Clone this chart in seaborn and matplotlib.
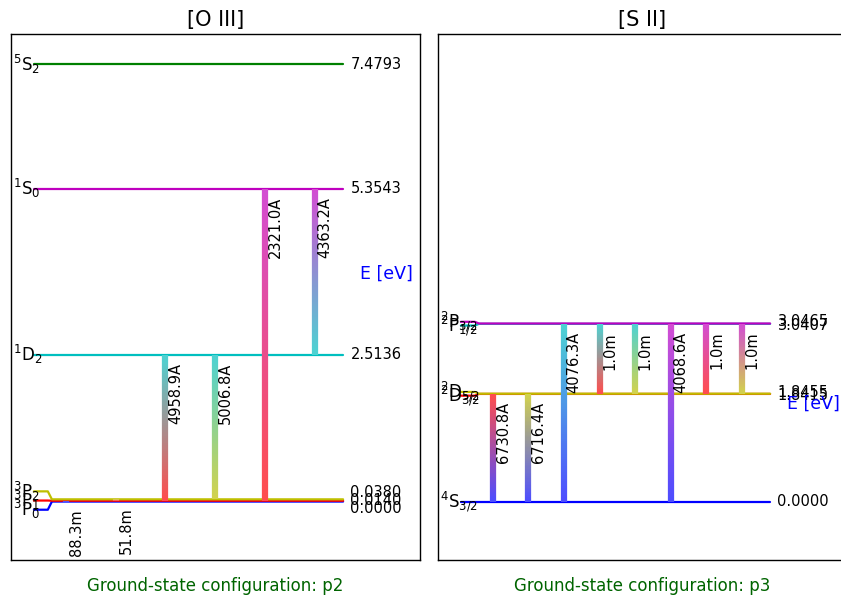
import numpy as np
import pandas as pd
import matplotlib
matplotlib.use("Agg")
import matplotlib.pyplot as plt
from matplotlib.collections import LineCollection
from matplotlib.colors import to_rgb
import seaborn as sns

# [O III] levels and transitions
o3_names = ['$^{3}$P$_{0}$', '$^{3}$P$_{1}$', '$^{3}$P$_{2}$', '$^{1}$D$_{2}$', '$^{1}$S$_{0}$', '$^{5}$S$_{2}$']
o3_energy = [0.0000, 0.0140, 0.0380, 2.5136, 5.3543, 7.4793]
o3_upper = [1, 2, 3, 3, 4, 4]
o3_lower = [0, 1, 1, 2, 1, 3]
o3_labels = ['88.3m', '51.8m', '4958.9A', '5006.8A', '2321.0A', '4363.2A']

# [S II] levels and transitions
s2_names = ['$^{4}$S$_{3/2}$', '$^{2}$D$_{3/2}$', '$^{2}$D$_{5/2}$', '$^{2}$P$_{1/2}$', '$^{2}$P$_{3/2}$']
s2_energy = [0.0000, 1.8415, 1.8455, 3.0407, 3.0465]
s2_upper = [1, 2, 3, 3, 3, 4, 4, 4]
s2_lower = [0, 0, 0, 1, 2, 0, 1, 2]
s2_labels = ['6730.8A', '6716.4A', '4076.3A', '1.0m', '1.0m', '4068.6A', '1.0m', '1.0m']

level_colors = ['b', 'r', 'y', 'c', 'm', 'g']


def spread(energies, sep):
    # push labels of close levels apart, centred on the group mean
    e = np.asarray(energies, float)
    pos = e.copy()
    groups = [[0]]
    for i in range(1, len(e)):
        if e[i] - e[groups[-1][-1]] < sep:
            groups[-1].append(i)
        else:
            groups.append([i])
    for g in groups:
        m = e[g].mean()
        for k, i in enumerate(g):
            pos[i] = m + (k - (len(g) - 1) / 2) * sep
    return pos


def draw_panel(ax, title, names, energy, upper, lower, labels, config):
    emax = max(energy)
    name_y = spread(energy, 0.021 * emax)
    val_y = spread(energy, 0.019 * emax)
    cols = level_colors[:len(names)]

    rows = []
    for i, n in enumerate(names):
        for x, y in [(0.056, name_y[i]), (0.09, name_y[i]), (0.10, energy[i]), (0.812, energy[i])]:
            rows.append({'x': x, 'E': y, 'level': n})
    df = pd.DataFrame(rows)
    sns.lineplot(data=df, x='x', y='E', hue='level', hue_order=names,
                 palette=dict(zip(names, cols)), estimator=None, sort=False,
                 legend=False, lw=1.6, ax=ax)

    for i, n in enumerate(names):
        ax.text(0.005, name_y[i], n, ha='left', va='center', fontsize=12)
        ax.text(0.83, val_y[i], f'{energy[i]:.4f}', ha='left', va='center', fontsize=10.5)

    xs = np.linspace(0.134, 0.743, len(upper))
    for x, u, l, lab in zip(xs, upper, lower, labels):
        y = np.linspace(energy[l], energy[u], 80)
        pts = np.column_stack([np.full_like(y, x), y]).reshape(-1, 1, 2)
        segs = np.concatenate([pts[:-1], pts[1:]], axis=1)
        t = np.linspace(0, 1, len(segs))[:, None]
        c = (1 - t) * np.array(to_rgb(cols[l])) + t * np.array(to_rgb(cols[u]))
        c = 0.7 * c + 0.3
        ax.add_collection(LineCollection(segs, colors=c, linewidths=4.5, capstyle='butt', zorder=3))
        ax.annotate(lab, (x, energy[u]), xytext=(2, -6), textcoords='offset points',
                    rotation=90, ha='left', va='top', fontsize=10.5, zorder=4)

    ax.text(0.853, emax / 2, 'E [eV]', color='b', fontsize=12.5, ha='left', va='bottom')
    ax.set_xlim(0, 1)
    ax.set_ylim(-1.0, 8.0)
    ax.set_xticks([])
    ax.set_yticks([])
    ax.set_ylabel('')
    ax.set_title(title, fontsize=15)
    ax.set_xlabel(config, color='darkgreen', fontsize=12, labelpad=12)


sns.set_style("white")
plt.rcParams['text.color'] = 'black'
plt.rcParams['axes.labelcolor'] = 'black'
fig = plt.figure(figsize=(8.41, 6.01), dpi=100)
ax1 = fig.add_axes([11 / 841, 41 / 601, 409 / 841, 526 / 601])
ax2 = fig.add_axes([438 / 841, 41 / 601, 409 / 841, 526 / 601])
for ax in (ax1, ax2):
    for s in ax.spines.values():
        s.set_color('black')
        s.set_linewidth(1.0)

draw_panel(ax1, '[O III]', o3_names, o3_energy, o3_upper, o3_lower, o3_labels,
           'Ground-state configuration: p2')
draw_panel(ax2, '[S II]', s2_names, s2_energy, s2_upper, s2_lower, s2_labels,
           'Ground-state configuration: p3')

fig.savefig('out.png', dpi=100)
